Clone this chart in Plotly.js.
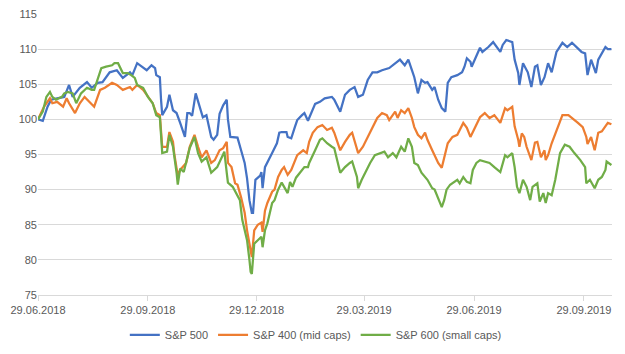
<!DOCTYPE html>
<html>
<head>
<meta charset="utf-8">
<script src="https://cdn.plot.ly/plotly-3.0.1.min.js"></script>
<style>
  html, body { margin: 0; padding: 0; background: #ffffff; }
  #chart { width: 625px; height: 354px; }
</style>
</head>
<body>
<div id="chart"></div>
<script>
// ---- Data ----
const seriesNames = ["S&P 500", "S&P 400 (mid caps)", "S&P 600 (small caps)"];

const dates500 = ["2018-06-29","2018-07-03","2018-07-07","2018-07-10","2018-07-15","2018-07-21","2018-07-25","2018-07-28","2018-08-03","2018-08-09","2018-08-13","2018-08-18","2018-08-22","2018-08-28","2018-09-03","2018-09-08","2018-09-14","2018-09-16","2018-09-20","2018-09-25","2018-09-28","2018-10-02","2018-10-05","2018-10-06","2018-10-09","2018-10-10","2018-10-11","2018-10-15","2018-10-17","2018-10-20","2018-10-23","2018-10-26","2018-10-30","2018-11-01","2018-11-03","2018-11-05","2018-11-08","2018-11-11","2018-11-14","2018-11-17","2018-11-21","2018-11-23","2018-11-26","2018-11-28","2018-12-01","2018-12-04","2018-12-05","2018-12-07","2018-12-13","2018-12-16","2018-12-19","2018-12-21","2018-12-23","2018-12-25","2018-12-26","2018-12-28","2019-01-01","2019-01-02","2019-01-03","2019-01-05","2019-01-07","2019-01-11","2019-01-15","2019-01-17","2019-01-19","2019-01-23","2019-01-24","2019-01-27","2019-01-30","2019-02-01","2019-02-05","2019-02-07","2019-02-10","2019-02-13","2019-02-16","2019-02-20","2019-02-24","2019-03-02","2019-03-04","2019-03-09","2019-03-13","2019-03-17","2019-03-21","2019-03-24","2019-03-28","2019-04-01","2019-04-05","2019-04-09","2019-04-13","2019-04-19","2019-04-24","2019-04-28","2019-05-02","2019-05-05","2019-05-08","2019-05-10","2019-05-13","2019-05-16","2019-05-19","2019-05-21","2019-05-25","2019-05-27","2019-05-30","2019-06-02","2019-06-05","2019-06-07","2019-06-10","2019-06-15","2019-06-19","2019-06-21","2019-06-23","2019-06-26","2019-06-27","2019-06-30","2019-07-04","2019-07-06","2019-07-11","2019-07-15","2019-07-18","2019-07-21","2019-07-23","2019-07-26","2019-07-31","2019-08-02","2019-08-05","2019-08-06","2019-08-09","2019-08-13","2019-08-16","2019-08-19","2019-08-21","2019-08-24","2019-08-27","2019-08-30","2019-09-02","2019-09-06","2019-09-11","2019-09-15","2019-09-19","2019-09-23","2019-09-27","2019-09-30","2019-10-02","2019-10-05","2019-10-06","2019-10-09","2019-10-11","2019-10-14","2019-10-17","2019-10-19","2019-10-22"];
const sp500 = [100.0,99.8,101.8,102.8,103.0,103.2,104.9,103.2,104.5,105.3,104.5,105.2,105.3,106.7,107.0,105.9,106.7,106.3,108.0,107.3,107.0,107.7,107.3,106.3,106.0,102.8,100.6,101.8,103.5,101.3,100.9,99.5,97.5,100.9,100.9,100.5,103.7,102.0,100.3,100.6,97.5,97.1,97.8,100.8,102.0,102.8,100.0,97.5,97.4,95.6,93.8,91.6,88.5,86.7,86.7,91.4,92.0,92.5,90.2,93.2,93.8,95.2,96.6,98.1,98.2,98.2,97.5,97.3,98.9,99.9,100.6,100.9,99.8,101.0,102.2,102.5,103.0,103.2,102.8,101.1,103.5,104.2,104.6,103.2,103.5,105.6,106.7,106.7,107.0,107.3,108.0,108.5,107.7,108.5,107.0,106.0,103.7,105.6,105.2,105.3,104.2,104.6,102.8,101.6,101.1,105.2,106.0,106.3,106.7,107.5,108.7,108.2,107.5,108.7,110.2,109.6,110.3,111.0,110.3,109.6,110.6,111.3,111.0,108.5,106.6,104.9,108.0,106.7,104.6,107.5,107.7,104.9,106.0,108.0,106.7,109.6,110.9,110.3,110.9,110.2,109.6,109.4,106.3,108.5,108.0,106.6,108.5,109.4,110.3,110.0,110.0];

const dates400 = ["2018-06-29","2018-07-04","2018-07-09","2018-07-11","2018-07-15","2018-07-20","2018-07-23","2018-07-25","2018-07-30","2018-08-03","2018-08-07","2018-08-11","2018-08-15","2018-08-20","2018-08-24","2018-08-30","2018-09-03","2018-09-08","2018-09-14","2018-09-16","2018-09-20","2018-09-25","2018-09-29","2018-10-03","2018-10-06","2018-10-09","2018-10-11","2018-10-15","2018-10-17","2018-10-20","2018-10-21","2018-10-24","2018-10-26","2018-10-28","2018-10-31","2018-11-03","2018-11-07","2018-11-10","2018-11-13","2018-11-17","2018-11-21","2018-11-24","2018-11-28","2018-12-01","2018-12-04","2018-12-05","2018-12-08","2018-12-11","2018-12-13","2018-12-16","2018-12-19","2018-12-21","2018-12-25","2018-12-27","2018-12-30","2019-01-02","2019-01-03","2019-01-05","2019-01-07","2019-01-11","2019-01-13","2019-01-16","2019-01-19","2019-01-21","2019-01-24","2019-01-27","2019-01-30","2019-02-01","2019-02-06","2019-02-09","2019-02-11","2019-02-14","2019-02-18","2019-02-22","2019-02-26","2019-03-02","2019-03-04","2019-03-09","2019-03-13","2019-03-17","2019-03-19","2019-03-24","2019-03-28","2019-04-01","2019-04-05","2019-04-09","2019-04-13","2019-04-17","2019-04-19","2019-04-24","2019-04-26","2019-04-29","2019-05-02","2019-05-05","2019-05-08","2019-05-10","2019-05-13","2019-05-16","2019-05-19","2019-05-21","2019-05-25","2019-05-30","2019-06-02","2019-06-05","2019-06-07","2019-06-11","2019-06-15","2019-06-20","2019-06-23","2019-06-26","2019-06-30","2019-07-04","2019-07-08","2019-07-12","2019-07-16","2019-07-21","2019-07-25","2019-07-27","2019-07-31","2019-08-02","2019-08-05","2019-08-06","2019-08-08","2019-08-10","2019-08-12","2019-08-15","2019-08-16","2019-08-19","2019-08-21","2019-08-24","2019-08-27","2019-08-28","2019-08-30","2019-09-02","2019-09-06","2019-09-11","2019-09-16","2019-09-20","2019-09-24","2019-09-28","2019-10-01","2019-10-02","2019-10-05","2019-10-08","2019-10-11","2019-10-14","2019-10-17","2019-10-19","2019-10-22"];
const sp400 = [100.0,101.8,103.0,102.3,102.5,101.8,103.0,102.3,100.9,102.3,103.2,102.5,101.8,104.2,104.5,105.2,104.9,104.2,104.6,104.2,104.9,104.2,103.2,102.3,100.9,100.6,96.1,96.1,98.2,96.8,95.2,92.0,92.8,93.2,93.8,96.1,97.8,96.1,94.6,95.6,93.8,94.2,95.6,95.9,96.8,93.8,93.2,90.9,90.7,88.9,86.7,84.2,80.4,84.2,85.0,85.3,84.0,87.0,88.1,89.7,90.0,91.8,92.8,93.2,92.1,92.8,94.2,94.9,95.6,95.2,96.8,98.1,98.9,99.2,98.5,98.8,98.1,95.6,96.8,97.8,98.1,95.2,96.1,97.5,98.9,100.2,100.9,100.6,99.9,101.1,100.2,101.3,100.9,101.6,100.2,98.9,97.8,97.3,98.1,97.1,95.6,93.8,93.1,95.2,96.6,97.5,97.8,99.5,98.8,97.5,98.8,100.3,100.9,100.2,100.6,99.5,101.6,101.3,101.8,99.0,97.1,96.1,98.0,97.5,96.1,94.6,94.2,96.7,96.8,94.6,95.6,94.2,94.9,96.6,98.3,100.6,100.6,100.1,99.5,98.9,97.5,96.5,97.5,95.6,98.1,98.3,99.0,99.5,99.3];

const dates600 = ["2018-06-29","2018-07-03","2018-07-06","2018-07-09","2018-07-11","2018-07-14","2018-07-19","2018-07-21","2018-07-24","2018-07-28","2018-07-31","2018-08-04","2018-08-09","2018-08-13","2018-08-15","2018-08-18","2018-08-21","2018-08-25","2018-08-30","2018-09-01","2018-09-04","2018-09-08","2018-09-12","2018-09-15","2018-09-18","2018-09-20","2018-09-25","2018-09-29","2018-10-03","2018-10-06","2018-10-09","2018-10-11","2018-10-15","2018-10-17","2018-10-20","2018-10-23","2018-10-24","2018-10-26","2018-10-29","2018-11-03","2018-11-07","2018-11-10","2018-11-13","2018-11-17","2018-11-21","2018-11-26","2018-11-30","2018-12-02","2018-12-04","2018-12-05","2018-12-09","2018-12-12","2018-12-15","2018-12-17","2018-12-21","2018-12-23","2018-12-24","2018-12-25","2018-12-27","2018-12-30","2019-01-02","2019-01-03","2019-01-05","2019-01-07","2019-01-11","2019-01-13","2019-01-16","2019-01-19","2019-01-21","2019-01-24","2019-01-26","2019-01-28","2019-01-31","2019-02-05","2019-02-07","2019-02-10","2019-02-11","2019-02-16","2019-02-20","2019-02-22","2019-02-26","2019-03-02","2019-03-04","2019-03-09","2019-03-13","2019-03-17","2019-03-19","2019-03-23","2019-03-24","2019-03-27","2019-03-29","2019-04-03","2019-04-07","2019-04-11","2019-04-15","2019-04-18","2019-04-22","2019-04-25","2019-04-29","2019-05-02","2019-05-05","2019-05-08","2019-05-10","2019-05-13","2019-05-16","2019-05-21","2019-05-25","2019-05-27","2019-05-30","2019-06-02","2019-06-04","2019-06-06","2019-06-09","2019-06-11","2019-06-15","2019-06-17","2019-06-20","2019-06-23","2019-06-26","2019-06-28","2019-07-01","2019-07-04","2019-07-08","2019-07-12","2019-07-16","2019-07-21","2019-07-25","2019-07-27","2019-07-31","2019-08-02","2019-08-04","2019-08-06","2019-08-09","2019-08-12","2019-08-15","2019-08-17","2019-08-21","2019-08-23","2019-08-26","2019-08-28","2019-08-30","2019-09-02","2019-09-05","2019-09-06","2019-09-09","2019-09-13","2019-09-17","2019-09-21","2019-09-26","2019-09-30","2019-10-01","2019-10-04","2019-10-08","2019-10-11","2019-10-14","2019-10-17","2019-10-18","2019-10-22"];
const sp600 = [100.0,101.1,103.2,103.9,103.2,102.8,103.2,103.7,103.9,103.7,102.3,103.7,104.5,104.2,104.2,105.9,107.3,107.5,107.7,108.0,108.0,106.6,106.6,106.3,105.9,104.9,104.5,103.2,102.3,100.6,100.3,95.2,95.4,97.8,96.1,92.4,90.7,93.0,92.5,95.9,97.5,95.2,94.0,94.6,92.4,93.2,94.6,95.4,92.4,91.0,90.4,89.5,88.5,85.7,82.8,80.0,78.3,78.0,82.3,82.8,83.3,81.8,84.2,85.2,88.1,88.5,90.0,91.0,90.4,89.5,91.1,90.4,91.7,92.8,93.2,93.2,93.8,95.6,97.1,97.3,96.6,96.1,95.9,92.4,93.2,93.8,94.0,91.8,90.2,91.4,92.1,93.8,94.9,95.2,95.4,94.6,95.2,94.6,96.1,95.4,97.3,96.1,93.8,93.5,92.4,91.4,90.2,90.0,88.8,87.5,88.5,90.0,90.7,90.9,91.4,90.9,91.8,91.1,90.9,92.8,93.8,94.2,94.0,93.8,93.2,92.5,94.9,94.6,95.2,93.2,90.4,89.5,91.4,90.4,88.5,90.4,90.9,88.3,89.5,88.1,89.5,89.2,91.4,92.4,95.2,96.4,96.1,95.2,94.2,93.2,90.9,91.4,90.2,91.4,91.8,92.8,94.0,93.5];

const tickDates = ["2018-06-29","2018-09-29","2018-12-29","2019-03-29","2019-06-29","2019-09-29"];
const tickLabels = ["29.06.2018","29.09.2018","29.12.2018","29.03.2019","29.06.2019","29.09.2019"];
const yTicks = [75, 80, 85, 90, 95, 100, 105, 110, 115];

// ---- Styling ----
const colors = ["#4472C4", "#ED7D31", "#70AD47"];
const textColor = "#595959";
const gridColor = "#D9D9D9";
const fontFamily = "'Liberation Sans', Arial, sans-serif";

const traces = [
  { x: dates500, y: sp500, name: seriesNames[0] },
  { x: dates400, y: sp400, name: seriesNames[1] },
  { x: dates600, y: sp600, name: seriesNames[2] }
].map((t, i) => Object.assign(t, {
  type: "scatter",
  mode: "lines",
  line: { color: colors[i], width: 2.25 },
  hoverinfo: "x+y+name"
}));

const layout = {
  width: 625,
  height: 354,
  margin: { l: 38, r: 13, t: 14, b: 59, autoexpand: false },
  paper_bgcolor: "#ffffff",
  plot_bgcolor: "#ffffff",
  font: { family: fontFamily, size: 11, color: textColor },
  showlegend: true,
  legend: {
    orientation: "h",
    x: 0.484,
    xanchor: "center",
    y: -0.142,
    yanchor: "middle",
    font: { family: fontFamily, size: 11, color: textColor },
    bgcolor: "rgba(0,0,0,0)"
  },
  xaxis: {
    type: "date",
    range: ["2018-06-29", "2019-10-22 12:00"],
    tickmode: "array",
    tickvals: tickDates,
    ticktext: tickLabels,
    showgrid: false,
    zeroline: false,
    showline: true,
    linecolor: gridColor,
    linewidth: 1,
    ticks: "outside",
    ticklen: 5,
    tickcolor: gridColor,
    tickfont: { family: fontFamily, size: 11, color: textColor }
  },
  yaxis: {
    range: [75, 115],
    tickmode: "array",
    tickvals: yTicks,
    showgrid: true,
    gridcolor: gridColor,
    gridwidth: 1,
    zeroline: false,
    showline: false,
    ticks: "",
    tickfont: { family: fontFamily, size: 11, color: textColor }
  }
};

Plotly.newPlot("chart", traces, layout, { displayModeBar: false, staticPlot: true });
</script>
</body>
</html>
